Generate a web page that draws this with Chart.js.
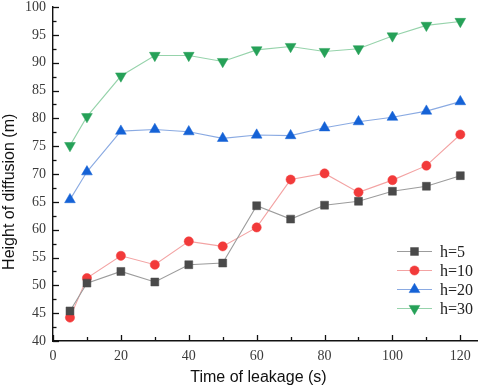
<!DOCTYPE html>
<html>
<head>
<meta charset="utf-8">
<script src="https://cdn.jsdelivr.net/npm/chart.js@4/dist/chart.umd.min.js"></script>
<style>
html,body{margin:0;padding:0;background:#fff;}
#wrap{width:484px;height:388px;position:relative;}
</style>
</head>
<body>
<div id="wrap"><canvas id="c" width="484" height="388"></canvas></div>
<script>
const times = [5, 10, 20, 30, 40, 50, 60, 70, 80, 90, 100, 110, 120];
const h5  = [45.4, 50.4, 52.5, 50.6, 53.7, 54.0, 64.3, 61.9, 64.4, 65.1, 66.9, 67.8, 69.7];
const h10 = [44.2, 51.3, 55.3, 53.7, 57.9, 57.0, 60.4, 69.0, 70.1, 66.7, 68.9, 71.5, 77.1];
const h20 = [65.4, 70.4, 77.7, 78.0, 77.6, 76.4, 77.0, 76.9, 78.3, 79.4, 80.2, 81.3, 83.0];
const h30 = [75.1, 80.3, 87.6, 91.3, 91.3, 90.2, 92.3, 92.9, 92.0, 92.5, 94.8, 96.7, 97.4];
const seriesLabels = ['h=5', 'h=10', 'h=20', 'h=30'];
const xTickValues = [0, 20, 40, 60, 80, 100, 120];
const xTitle = 'Time of leakage (s)';
const yTitle = 'Height of diffusion (m)';

const styles = [
  {line:'#9c9c9c', mark:'#4a4a4a', ps:'rect', r:5.6, rot:0},
  {line:'#f3a3a3', mark:'#f23a3a', ps:'circle', r:4.6, rot:0},
  {line:'#8aaae2', mark:'#1562d6', ps:'triangle', r:6.2, rot:0},
  {line:'#96d3ab', mark:'#26a158', ps:'triangle', r:6.2, rot:180}
];
const allSeries = [h5, h10, h20, h30];

const datasets = allSeries.map((s, i) => ({
  label: seriesLabels[i],
  data: times.map((t, j) => ({x: t, y: s[j]})),
  borderColor: styles[i].line,
  borderWidth: 1.1,
  backgroundColor: styles[i].mark,
  pointBackgroundColor: styles[i].mark,
  pointBorderColor: styles[i].mark,
  pointBorderWidth: 0.5,
  pointStyle: styles[i].ps,
  pointRotation: styles[i].rot,
  pointRadius: styles[i].r,
  pointHoverRadius: styles[i].r,
  tension: 0
}));

function drawMarker(ctx, st, x, y) {
  if (window.Chart && Chart.helpers && Chart.helpers.drawPoint) {
    ctx.save();
    ctx.fillStyle = st.mark; ctx.strokeStyle = st.mark; ctx.lineWidth = 0.5;
    Chart.helpers.drawPoint(ctx, {pointStyle: st.ps, rotation: st.rot, radius: st.r, borderWidth: 0.5}, x, y);
    ctx.restore();
  }
}

const tickPlugin = {
  id: 'insideTicks',
  afterDraw(chart) {
    const ctx = chart.ctx, xs = chart.scales.x, ys = chart.scales.y, a = chart.chartArea;
    ctx.save();
    ctx.strokeStyle = '#111'; ctx.lineWidth = 1.3;
    for (let v = 0; v <= 120; v += 10) {
      const px = Math.round(xs.getPixelForValue(v)) + 0.5;
      const len = v % 20 === 0 ? 6 : 4;
      ctx.beginPath(); ctx.moveTo(px, a.bottom); ctx.lineTo(px, a.bottom - len); ctx.stroke();
    }
    for (let v = 40; v <= 100; v += 2.5) {
      const py = Math.round(ys.getPixelForValue(v)) + 0.5;
      const len = v % 5 === 0 ? 6 : 3.5;
      ctx.beginPath(); ctx.moveTo(a.left, py); ctx.lineTo(a.left + len, py); ctx.stroke();
    }
    ctx.restore();
  }
};

const legendPlugin = {
  id: 'lineLegend',
  afterDraw(chart) {
    const ctx = chart.ctx;
    const x0 = 397, x1 = 432, xm = 414.5, tx = 440, y0 = 251.5, dy = 19;
    ctx.save();
    ctx.font = '16px "Liberation Serif", "Times New Roman", serif';
    ctx.textBaseline = 'middle';
    ctx.textAlign = 'left';
    seriesLabels.forEach((lab, i) => {
      const y = y0 + dy * i;
      const st = styles[i];
      ctx.strokeStyle = st.line; ctx.lineWidth = 1.1;
      ctx.beginPath(); ctx.moveTo(x0, y); ctx.lineTo(x1, y); ctx.stroke();
      drawMarker(ctx, st, xm, y);
      ctx.fillStyle = '#222';
      ctx.fillText(lab, tx, y + 1);
    });
    ctx.restore();
  }
};

new Chart(document.getElementById('c'), {
  type: 'line',
  data: {datasets},
  options: {
    responsive: false,
    animation: false,
    events: [],
    layout: {padding: {top: 0, right: 3, left: 0, bottom: 0}},
    plugins: {legend: {display: false}, tooltip: {enabled: false}},
    scales: {
      x: {
        type: 'linear', min: 0, max: 125,
        afterBuildTicks(scale) { scale.ticks = xTickValues.map(v => ({value: v})); },
        afterFit(scale) { scale.height = 47; },
        grid: {display: false, drawTicks: false},
        border: {display: true, color: '#111', width: 1.4},
        ticks: {
          padding: 7, color: '#3a3a3a', maxRotation: 0, autoSkip: false,
          font: {family: '"Liberation Serif", "Times New Roman", serif', size: 14}
        },
        title: {
          display: true, text: xTitle + '   ', color: '#111',
          font: {family: '"Liberation Sans", Arial, sans-serif', size: 16},
          padding: {top: 0, bottom: 1}
        }
      },
      y: {
        type: 'linear', min: 40, max: 100,
        ticks: {
          stepSize: 5, padding: 7, color: '#3a3a3a',
          font: {family: '"Liberation Serif", "Times New Roman", serif', size: 14}
        },
        afterFit(scale) { scale.width = 53; scale.paddingTop = 7; scale.paddingBottom = 0; },
        grid: {display: false, drawTicks: false},
        border: {display: true, color: '#111', width: 1.4},
        title: {
          display: true, text: yTitle + '        ', color: '#111',
          font: {family: '"Liberation Sans", Arial, sans-serif', size: 16},
          padding: {top: 0, bottom: 0}
        }
      }
    }
  },
  plugins: [tickPlugin, legendPlugin]
});
</script>
</body>
</html>
